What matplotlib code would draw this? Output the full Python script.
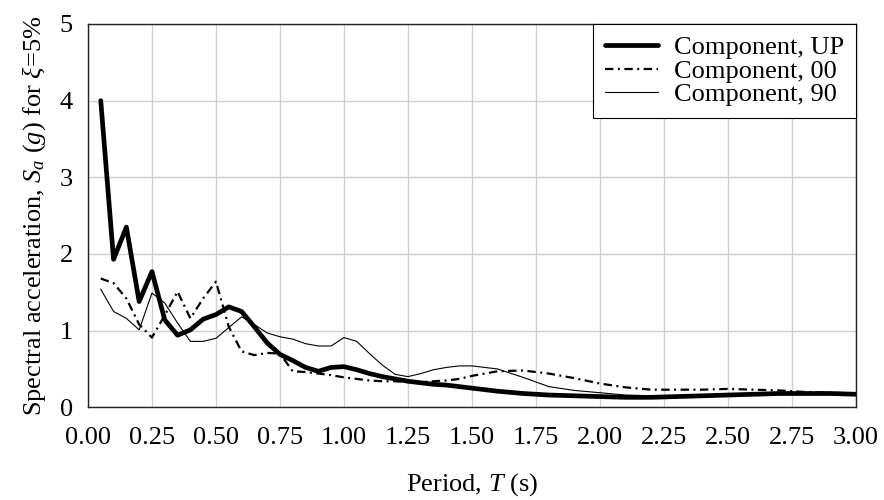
import matplotlib
matplotlib.use("Agg")
import matplotlib.pyplot as plt

# periods (s)
period = [0.05, 0.10, 0.15, 0.20, 0.25, 0.30, 0.35, 0.40, 0.45, 0.50,
          0.55, 0.60, 0.65, 0.70, 0.75, 0.80, 0.85, 0.90, 0.95, 1.00,
          1.05, 1.10, 1.15, 1.20, 1.25, 1.30, 1.35, 1.40, 1.45, 1.50,
          1.6, 1.7, 1.8, 1.9, 2.0, 2.1, 2.2, 2.3, 2.4, 2.5,
          2.6, 2.7, 2.8, 2.9, 3.0]

sa_up = [4.00, 1.93, 2.35, 1.38, 1.77, 1.14, 0.94, 1.01, 1.15, 1.21,
         1.31, 1.25, 1.05, 0.84, 0.69, 0.61, 0.52, 0.47, 0.52, 0.53,
         0.49, 0.44, 0.40, 0.37, 0.34, 0.32, 0.30, 0.29, 0.27, 0.25,
         0.21, 0.18, 0.16, 0.15, 0.14, 0.13, 0.13, 0.14, 0.15, 0.16,
         0.17, 0.18, 0.18, 0.18, 0.17]

sa_00 = [1.68, 1.62, 1.42, 1.08, 0.91, 1.20, 1.51, 1.16, 1.42, 1.64,
         1.05, 0.73, 0.68, 0.71, 0.70, 0.47, 0.46, 0.44, 0.42, 0.39,
         0.37, 0.35, 0.34, 0.34, 0.33, 0.33, 0.34, 0.35, 0.37, 0.41,
         0.47, 0.48, 0.44, 0.38, 0.31, 0.26, 0.23, 0.23, 0.23, 0.24,
         0.23, 0.22, 0.20, 0.19, 0.18]

sa_90 = [1.54, 1.25, 1.16, 1.01, 1.49, 1.36, 1.10, 0.86, 0.86, 0.90,
         1.04, 1.18, 1.08, 0.97, 0.92, 0.89, 0.83, 0.80, 0.80, 0.91,
         0.86, 0.70, 0.55, 0.43, 0.40, 0.44, 0.49, 0.52, 0.54, 0.54,
         0.50, 0.39, 0.27, 0.22, 0.19, 0.16, 0.15, 0.15, 0.16, 0.17,
         0.18, 0.19, 0.18, 0.18, 0.17]

x_ticks = [0.00, 0.25, 0.50, 0.75, 1.00, 1.25, 1.50, 1.75, 2.00, 2.25, 2.50, 2.75, 3.00]
y_ticks = [0, 1, 2, 3, 4, 5]

plt.rcParams['font.family'] = ['Liberation Serif', 'DejaVu Serif']
plt.rcParams['mathtext.fontset'] = 'custom'
plt.rcParams['mathtext.rm'] = 'Liberation Serif'
plt.rcParams['mathtext.it'] = 'Liberation Serif:italic'

fig = plt.figure(figsize=(8.84, 5.0), dpi=100)
ax = fig.add_axes([0.0995, 0.1854, 0.8688, 0.7666])

ax.plot(period, sa_up, color='black', lw=3.4, label='Component, UP',
        solid_capstyle='round', solid_joinstyle='round')
ax.plot(period, sa_00, color='black', lw=1.6, linestyle=(0, (3.8, 2.0, 0.9, 2.0)),
        label='Component, 00')
ax.plot(period, sa_90, color='black', lw=0.8, label='Component, 90')

ax.set_xlim(0, 3.0)
ax.set_ylim(0, 5)
ax.set_xticks(x_ticks)
ax.set_xticklabels(['%.2f' % t for t in x_ticks])
ax.set_yticks(y_ticks)
ax.grid(True, color='#d0d0d0', lw=1.0)
ax.set_axisbelow(True)
ax.tick_params(axis='both', length=0, labelsize=19)
ax.tick_params(axis='x', pad=14)
ax.tick_params(axis='y', pad=11)
for s in ax.spines.values():
    s.set_color('#222222')
    s.set_linewidth(1.0)

ax.set_xlabel('Period, $T$ (s)', fontsize=19, labelpad=16)
ax.set_ylabel(r'Spectral acceleration, $S_a$ ($g$) for $\xi$=5%', fontsize=19, labelpad=8)

leg = ax.legend(loc='upper right', fontsize=19, borderaxespad=0, fancybox=False,
                edgecolor='black', framealpha=1, handlelength=2.0, handletextpad=0.6,
                labelspacing=0.0, borderpad=0.45)
leg.get_frame().set_linewidth(0.8)

fig.savefig('out.png', dpi=100)
